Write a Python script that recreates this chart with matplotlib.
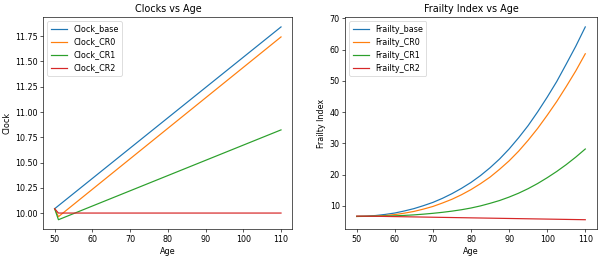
import matplotlib
matplotlib.use("Agg")
import matplotlib.pyplot as plt

# Clock values (straight segments: start, first step, end)
clock_ages = [50, 51, 110]
clock_base = [10.043, 10.073, 11.842]
clock_cr0 = [10.043, 9.964, 11.743]
clock_cr1 = [10.043, 9.934, 10.823]
clock_cr2 = [10.043, 10.0, 10.0]

# Frailty values read every 2.5 years
frailty_ages = [50, 52.5, 55, 57.5, 60, 62.5, 65, 67.5, 70, 72.5, 75, 77.5, 80,
                82.5, 85, 87.5, 90, 92.5, 95, 97.5, 100, 102.5, 105, 107.5, 110]
frailty_base = [6.6, 6.7, 6.9, 7.25, 7.7, 8.35, 9.1, 10.05, 11.1, 12.4, 13.9, 15.6, 17.5,
                19.7, 22.2, 25.0, 28.2, 31.8, 35.7, 40.1, 44.8, 49.8, 55.4, 61.1, 67.3]
frailty_cr0 = [6.6, 6.63, 6.7, 6.9, 7.2, 7.65, 8.2, 8.95, 9.8, 10.9, 12.1, 13.55, 15.2,
               17.1, 19.2, 21.7, 24.4, 27.5, 31.0, 34.8, 39.0, 43.4, 48.2, 53.2, 58.7]
frailty_cr1 = [6.6, 6.62, 6.65, 6.72, 6.8, 6.93, 7.1, 7.33, 7.6, 7.92, 8.3, 8.75, 9.3,
               9.98, 10.8, 11.7, 12.8, 14.05, 15.5, 17.15, 19.0, 21.0, 23.2, 25.6, 28.2]
frailty_cr2 = [6.7, 6.675, 6.65, 6.6, 6.55, 6.5, 6.45, 6.4, 6.35, 6.3, 6.25, 6.2, 6.15,
               6.1, 6.05, 6.0, 5.95, 5.9, 5.85, 5.8, 5.75, 5.7, 5.65, 5.6, 5.55]

dpi = 58
fig = plt.figure(figsize=(602 / dpi, 258 / dpi), dpi=dpi)

ax1 = fig.add_axes([0.072, 0.111, 0.4136, 0.822])
ax1.plot(clock_ages, clock_base, label="Clock_base")
ax1.plot(clock_ages, clock_cr0, label="Clock_CR0")
ax1.plot(clock_ages, clock_cr1, label="Clock_CR1")
ax1.plot(clock_ages, clock_cr2, label="Clock_CR2")
ax1.set_xlabel("Age")
ax1.set_ylabel("Clock")
ax1.set_title("Clocks vs Age")
ax1.legend(loc="upper left")

ax2 = fig.add_axes([0.5736, 0.111, 0.4176, 0.822])
ax2.plot(frailty_ages, frailty_base, label="Frailty_base")
ax2.plot(frailty_ages, frailty_cr0, label="Frailty_CR0")
ax2.plot(frailty_ages, frailty_cr1, label="Frailty_CR1")
ax2.plot(frailty_ages, frailty_cr2, label="Frailty_CR2")
ax2.set_xlabel("Age")
ax2.set_ylabel("Frailty Index")
ax2.set_title("Frailty Index vs Age")
ax2.legend(loc="upper left")

fig.savefig("out.png", dpi=dpi)
